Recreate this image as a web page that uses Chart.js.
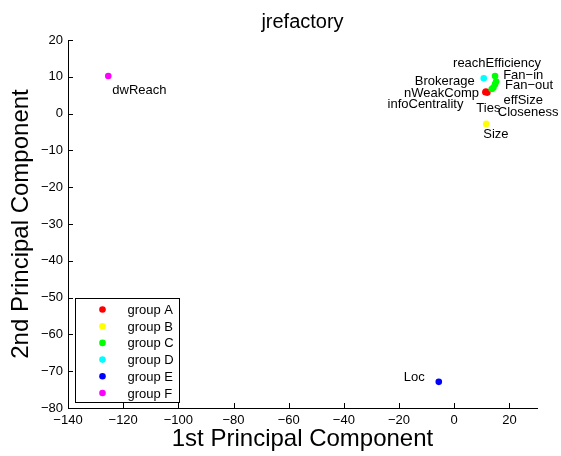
<!DOCTYPE html>
<html>
<head>
<meta charset="utf-8">
<script src="https://cdn.jsdelivr.net/npm/chart.js@4"></script>
<style>
  html, body { margin: 0; padding: 0; background: #fff; }
  #wrap { width: 561px; height: 456px; }
</style>
</head>
<body>
<div id="wrap"><canvas id="c" width="561" height="456"></canvas></div>
<script>
// ---- data ----
const chartTitle = 'jrefactory';
const xAxisTitle = '1st Principal Component';
const yAxisTitle = '2nd Principal Component';

const groupNames  = ['group A', 'group B', 'group C', 'group D', 'group E', 'group F'];
const groupColors = ['#ff0000', '#ffff00', '#00ff00', '#00ffff', '#0000ff', '#ff00ff'];

const metricNames = ['reachEfficiency', 'Fan\u2212in', 'Fan\u2212out', 'effSize', 'Closeness',
                     'nWeakComp', 'Ties', 'infoCentrality', 'Brokerage', 'Size', 'dwReach', 'Loc'];
const metricGroup = [2, 2, 2, 2, 2, 0, 0, 0, 3, 1, 5, 4];
const pc1 = [14.8, 15.2, 14.8, 14.2, 13.6, 11.5, 12.0, 11.3, 10.7, 11.6, -125.4, -5.6];
const pc2 = [10.2,  8.7,  8.0,  7.1,  6.7,  6.0,  5.7,  5.8,  9.6, -2.8,  10.2, -72.9];

const xTickValues = [-140, -120, -100, -80, -60, -40, -20, 0, 20];
const yTickValues = [-80, -70, -60, -50, -40, -30, -20, -10, 0, 10, 20];

// ---- label placement (pixel offset from the marker, text alignment) ----
const labelPlacement = {
  'reachEfficiency': [-42, -9, 'left'],
  'Fan\u2212in':     [7, -3, 'left'],
  'Fan\u2212out':    [10, 5, 'left'],
  'effSize':         [10, 17, 'left'],
  'Closeness':       [6, 27, 'left'],
  'nWeakComp':       [-7, 5, 'right'],
  'Ties':            [-11, 19, 'left'],
  'infoCentrality':  [-22, 16, 'right'],
  'Brokerage':       [-9, 7, 'right'],
  'Size':            [-3, 14, 'left'],
  'dwReach':         [4, 18, 'left'],
  'Loc':             [-14, -1, 'right']
};

const FONT = "'Liberation Sans', Arial, Helvetica, sans-serif";
const fmt = v => (v < 0 ? '\u2212' + Math.abs(v) : String(v));

// one dataset per group, later groups painted on top
const datasets = groupNames.map((name, g) => {
  const pts = [];
  metricNames.forEach((m, i) => {
    if (metricGroup[i] === g) pts.push({ x: pc1[i], y: pc2[i], name: m });
  });
  return {
    label: name,
    data: pts,
    backgroundColor: groupColors[g],
    borderWidth: 0,
    pointRadius: 3.3,
    pointHoverRadius: 3.3,
    order: groupNames.length - g
  };
});

// MATLAB-style inward tick marks
const inwardTicks = {
  id: 'inwardTicks',
  afterDraw(chart) {
    const { ctx, chartArea: a, scales: { x, y } } = chart;
    ctx.save();
    ctx.strokeStyle = '#000';
    ctx.lineWidth = 1;
    ctx.beginPath();
    xTickValues.forEach(v => {
      const px = Math.round(x.getPixelForValue(v)) + 0.5;
      ctx.moveTo(px, a.bottom);
      ctx.lineTo(px, a.bottom - 5);
    });
    yTickValues.forEach(v => {
      const py = Math.round(y.getPixelForValue(v)) + 0.5;
      ctx.moveTo(a.left, py);
      ctx.lineTo(a.left + 5, py);
    });
    ctx.stroke();
    ctx.restore();
  }
};

// text label beside each marker
const pointLabels = {
  id: 'pointLabels',
  afterDatasetsDraw(chart) {
    const { ctx } = chart;
    ctx.save();
    ctx.font = '13px ' + FONT;
    ctx.fillStyle = '#000';
    ctx.textBaseline = 'alphabetic';
    chart.data.datasets.forEach((ds, di) => {
      const meta = chart.getDatasetMeta(di);
      ds.data.forEach((p, i) => {
        const el = meta.data[i];
        const [dx, dy, align] = labelPlacement[p.name] || [4, 4, 'left'];
        ctx.textAlign = align;
        ctx.fillText(p.name, el.x + dx, el.y + dy);
      });
    });
    ctx.restore();
  }
};

// boxed legend in the lower-left corner of the plot
const boxLegend = {
  id: 'boxLegend',
  afterDraw(chart) {
    const { ctx, chartArea: a } = chart;
    const left = Math.round(a.left + 7) + 0.5;
    const top = 298.5;
    const w = 104, h = 104, row = 16.7;
    ctx.save();
    ctx.fillStyle = '#fff';
    ctx.fillRect(left, top, w, h);
    ctx.strokeStyle = '#000';
    ctx.lineWidth = 1;
    ctx.strokeRect(left, top, w, h);
    ctx.font = '13px ' + FONT;
    ctx.textAlign = 'left';
    ctx.textBaseline = 'middle';
    groupNames.forEach((name, g) => {
      const cy = top + 11 + g * row;
      ctx.fillStyle = groupColors[g];
      ctx.beginPath();
      ctx.arc(left + 27, cy, 3.3, 0, Math.PI * 2);
      ctx.fill();
      ctx.fillStyle = '#000';
      ctx.fillText(name, left + 52, cy + 1);
    });
    ctx.restore();
  }
};

// chart title centred over the plot area
const plotTitle = {
  id: 'plotTitle',
  afterDraw(chart) {
    const { ctx, chartArea: a } = chart;
    ctx.save();
    ctx.font = '20px ' + FONT;
    ctx.fillStyle = '#000';
    ctx.textAlign = 'center';
    ctx.textBaseline = 'alphabetic';
    ctx.fillText(chartTitle, (a.left + a.right) / 2, 28);
    ctx.restore();
  }
};

new Chart(document.getElementById('c'), {
  type: 'scatter',
  data: { datasets },
  plugins: [inwardTicks, pointLabels, boxLegend, plotTitle],
  options: {
    responsive: false,
    animation: false,
    devicePixelRatio: 1,
    layout: { padding: { top: 40, right: 24, bottom: 0, left: 0 } },
    plugins: {
      legend: { display: false },
      title: { display: false },
      tooltip: { enabled: false }
    },
    scales: {
      x: {
        type: 'linear',
        min: -140,
        max: 30,
        afterBuildTicks: s => { s.ticks = xTickValues.map(v => ({ value: v })); },
        afterFit: s => { s.height = 48; },
        grid: { display: false, drawTicks: false },
        border: { display: true, color: '#000', width: 1 },
        ticks: {
          color: '#000',
          font: { family: FONT, size: 13 },
          padding: 5,
          maxRotation: 0,
          autoSkip: false,
          callback: v => fmt(v)
        },
        title: {
          display: true,
          text: xAxisTitle,
          color: '#000',
          font: { family: FONT, size: 24 },
          padding: { top: 0, bottom: 2 }
        }
      },
      y: {
        type: 'linear',
        min: -80,
        max: 20,
        afterBuildTicks: s => { s.ticks = yTickValues.map(v => ({ value: v })); },
        afterFit: s => { s.width = 68; },
        grid: { display: false, drawTicks: false },
        border: { display: true, color: '#000', width: 1 },
        ticks: {
          color: '#000',
          font: { family: FONT, size: 13 },
          padding: 5,
          autoSkip: false,
          callback: v => fmt(v)
        },
        title: {
          display: true,
          text: yAxisTitle,
          color: '#000',
          font: { family: FONT, size: 24 },
          padding: { top: 7, bottom: 0 }
        }
      }
    }
  }
});
</script>
</body>
</html>
